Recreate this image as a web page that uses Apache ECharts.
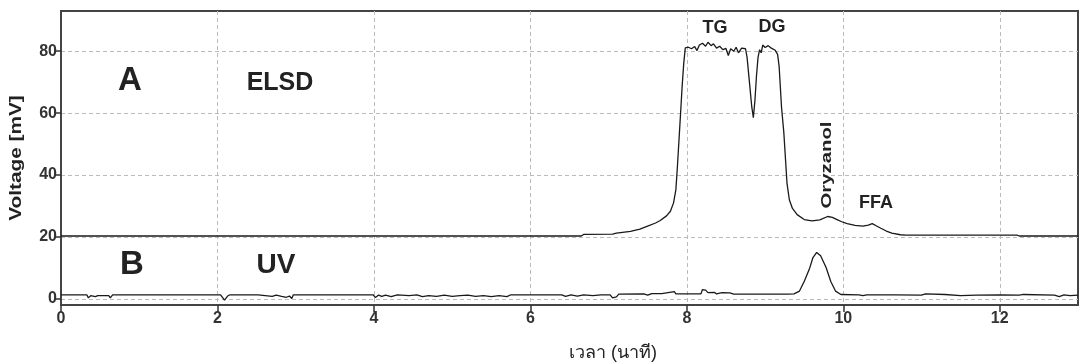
<!DOCTYPE html>
<html>
<head>
<meta charset="utf-8">
<script src="https://cdn.jsdelivr.net/npm/echarts@6/dist/echarts.min.js"></script>
<style>
  html, body { margin: 0; padding: 0; background: #fff; }
  #chart { width: 1081px; height: 363px; }
</style>
</head>
<body>
<div id="chart"></div>
<script>
// ELSD trace (offset +20 mV in the original figure)
const elsdTime = [0, 6.65, 6.68, 7.05, 7.10, 7.28, 7.40, 7.49, 7.60, 7.66, 7.74, 7.79, 7.83, 7.86, 7.88, 7.90, 7.92, 7.94, 7.96, 7.98,
  8.02, 8.06, 8.10, 8.13, 8.16, 8.20, 8.24, 8.27, 8.31, 8.34, 8.38, 8.42, 8.46, 8.50, 8.53, 8.56, 8.60, 8.63, 8.66, 8.70, 8.75,
  8.77, 8.80, 8.83, 8.85, 8.87, 8.89, 8.91, 8.93, 8.95, 8.97, 9.00, 9.04, 9.08, 9.13, 9.16, 9.18, 9.21, 9.24, 9.28, 9.31, 9.35,
  9.41, 9.50, 9.60, 9.70, 9.80, 9.86, 9.92, 9.98, 10.05, 10.15, 10.25, 10.32, 10.37, 10.42, 10.48, 10.55, 10.62, 10.73, 10.80,
  12.22, 12.25, 12.76, 12.77, 12.79, 13.0]
const elsdValue = [20.3, 20.3, 20.8, 20.9, 21.2, 21.8, 22.5, 23.4, 24.5, 25.3, 26.8, 28.3, 31, 35.3, 43, 51.5, 60, 68.7, 76, 81.1,
  81.3, 80.8, 81.5, 80.2, 82.0, 82.6, 81.6, 82.9, 81.8, 82.4, 81.0, 81.6, 80.5, 80.9, 78.6, 80.8, 80.0, 81.3, 79.5, 81.0, 80.8,
  78, 70, 62, 58.5, 64, 72, 78, 80.5, 79.5, 82.0, 81.2, 81.8, 81.0, 80.3, 79, 75, 62, 53.6, 37.4, 32, 29.2,
  27.2, 25.6, 25.2, 25.5, 26.6, 26.3, 25.6, 24.9, 24.3, 23.7, 23.5, 23.8, 24.3, 23.6, 22.8, 21.9, 21.2, 20.7, 20.6,
  20.6, 20.3, 20.3, 20.8, 20.3, 20.3]

// UV trace
const uvTime = [0, 0.33, 0.35, 0.38, 0.44, 0.47, 0.61, 0.63, 0.66, 1.50, 1.52, 1.55, 1.64, 1.66, 1.69, 2.04, 2.09, 2.13, 2.16,
  2.52, 2.54, 2.70, 2.75, 2.82, 2.88, 2.92, 2.95, 2.97, 3.99, 4.02, 4.06, 4.10, 4.15, 4.22, 4.30, 4.45, 4.55, 4.62, 4.70,
  4.80, 4.90, 5.00, 5.10, 5.20, 5.30, 5.40, 5.50, 5.60, 5.70, 5.75, 6.40, 6.45, 6.52, 6.60, 6.68, 6.80, 6.90, 7.02, 7.05,
  7.10, 7.13, 7.45, 7.50, 7.55, 7.68, 7.70, 7.84, 7.86, 8.18, 8.20, 8.24, 8.27, 8.35, 8.38, 8.45, 8.55, 8.60, 9.30, 9.37,
  9.44, 9.50, 9.57, 9.61, 9.66, 9.71, 9.78, 9.84, 9.90, 9.97, 10.20, 10.25, 10.30, 10.60, 10.62, 10.66, 11.00, 11.05,
  11.30, 11.50, 11.70, 12.00, 12.25, 12.30, 12.70, 12.76, 12.82, 12.90, 13.0]
const uvValue = [1.3, 1.3, 0.3, 1.0, 0.7, 1.0, 1.0, 0.3, 1.3, 1.3, 0.8, 1.3, 1.3, 0.8, 1.3, 1.3, -0.4, 0.9, 1.3,
  1.3, 0.7, 0.8, 1.2, 0.8, 0.5, 0.9, 0.1, 1.3, 1.3, 0.4, 1.2, 0.8, 1.2, 0.7, 1.3, 1.0, 1.3, 0.7, 1.0,
  0.8, 1.2, 0.8, 1.0, 1.2, 0.8, 1.0, 0.7, 1.0, 0.7, 1.3, 1.3, 0.8, 1.3, 0.9, 1.3, 1.0, 1.3, 1.3, 0.3,
  0.6, 1.5, 1.6, 1.2, 1.7, 1.7, 2.3, 2.3, 1.6, 1.6, 3.0, 2.8, 2.0, 2.1, 1.6, 2.0, 1.9, 1.5, 1.5, 1.6,
  2.5, 5.6, 9.9, 13.2, 15.0, 13.9, 10.1, 5.6, 2.5, 1.4, 1.3, 1.0, 1.3, 1.3, 0.7, 1.3, 1.2, 1.6,
  1.4, 1.0, 1.2, 1.3, 1.2, 1.4, 1.2, 0.7, 1.3, 1.0, 1.2]

const xTicks = [0, 2, 4, 6, 8, 10, 12]
const yTicks = [0, 20, 40, 60, 80]

const chart = echarts.init(document.getElementById('chart'))

const axisFont = { color: '#333', fontSize: 16, fontWeight: 'bold', fontFamily: 'Liberation Sans, Arial, sans-serif' }
const dashed = { color: '#bbb', type: [4, 3], width: 1 }
const lbl = (text, x, y, size, weight, extra) => Object.assign({
  type: 'text', x: x, y: y, z: 10,
  style: {
    text: text, fill: '#222', align: 'center', verticalAlign: 'middle',
    font: weight + ' ' + size + 'px "Liberation Sans", Arial, sans-serif'
  }
}, extra || {})

chart.setOption({
  animation: false,
  backgroundColor: '#fff',
  grid: { left: 61, right: 3, top: 11, bottom: 58, show: true, borderColor: '#444', borderWidth: 2 },
  xAxis: {
    type: 'value', min: 0, max: 13, interval: 2,
    axisLine: { onZero: false, lineStyle: { color: '#444', width: 2 } },
    axisTick: { customValues: xTicks, length: 7, lineStyle: { color: '#333', width: 1.5 } },
    axisLabel: Object.assign({ customValues: xTicks, margin: 6 }, axisFont),
    splitLine: { show: true, lineStyle: dashed }
  },
  yAxis: {
    type: 'value', min: -2, max: 93, splitNumber: 5,
    axisLine: { show: true, onZero: false, lineStyle: { color: '#444', width: 2 } },
    axisTick: { show: true, customValues: yTicks, length: 7, lineStyle: { color: '#333', width: 1.5 } },
    axisLabel: Object.assign({ customValues: yTicks, margin: 4 }, axisFont),
    splitLine: { show: true, lineStyle: dashed }
  },
  series: [
    {
      name: 'ELSD', type: 'line', showSymbol: false, silent: true,
      lineStyle: { color: '#1a1a1a', width: 1.3 },
      data: elsdTime.map((t, i) => [t, elsdValue[i]])
    },
    {
      name: 'UV', type: 'line', showSymbol: false, silent: true,
      lineStyle: { color: '#1a1a1a', width: 1.3 },
      data: uvTime.map((t, i) => [t, uvValue[i]])
    }
  ],
  graphic: [
    lbl('A', 130, 81, 33, 'bold'),
    lbl('ELSD', 280, 83, 25, 'bold'),
    lbl('B', 132, 265, 33, 'bold'),
    lbl('UV', 276, 265, 28, 'bold'),
    lbl('TG', 715, 28, 18, 'bold'),
    lbl('DG', 772, 27, 18, 'bold'),
    lbl('FFA', 876, 203, 18, 'bold'),
    lbl('Oryzanol', 827, 165, 14, 'bold', { rotation: Math.PI / 2, scaleX: 1.45 }),
    lbl('Voltage [mV]', 17, 158, 16, 'bold', { rotation: Math.PI / 2, scaleX: 1.3 }),
    lbl('เวลา (นาที)', 613, 353, 18, 'normal')
  ]
})
</script>
</body>
</html>
